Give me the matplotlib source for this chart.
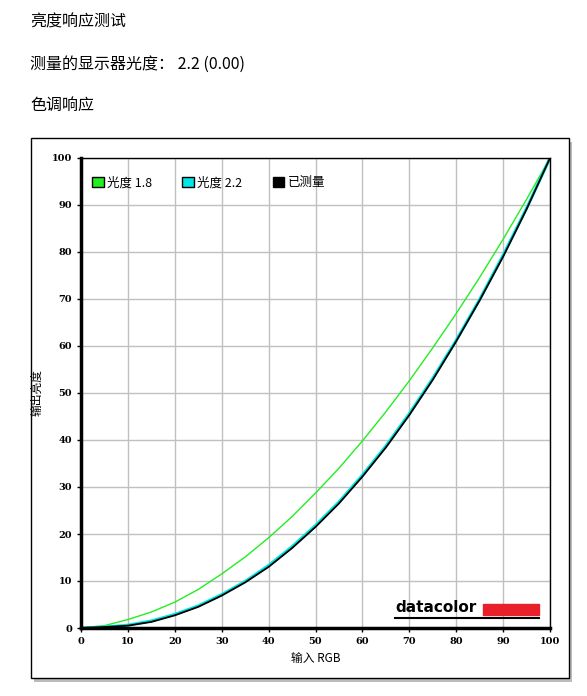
import matplotlib
matplotlib.use("Agg")
import matplotlib.pyplot as plt
from matplotlib.patches import Rectangle, Patch

plt.rcParams['font.family'] = ['Noto Sans CJK SC', 'DejaVu Sans']

x_vals = [0, 5, 10, 15, 20, 25, 30, 35, 40, 45, 50, 55, 60, 65, 70, 75, 80, 85, 90, 95, 100]
gamma18 = [0, 0.5, 1.8, 3.4, 5.5, 8.2, 11.5, 15.1, 19.2, 23.7, 28.7, 34.0, 39.8, 46.0, 52.6, 59.6, 66.9, 74.6, 82.7, 91.2, 100]
gamma22 = [0, 0.2, 0.6, 1.5, 2.9, 4.7, 7.1, 9.9, 13.3, 17.3, 21.8, 26.8, 32.5, 38.7, 45.6, 53.1, 61.2, 69.9, 79.3, 89.3, 100]
measured = [0, 0.2, 0.5, 1.3, 2.7, 4.5, 6.9, 9.7, 13.0, 17.0, 21.5, 26.5, 32.2, 38.4, 45.3, 52.8, 61.0, 69.7, 79.0, 89.1, 100]
ticks = [0, 10, 20, 30, 40, 50, 60, 70, 80, 90, 100]

fig = plt.figure(figsize=(5.87, 6.96), dpi=100)
fig.text(30/587, 1-22/696, "亮度响应测试", fontsize=11.5, va='center')
fig.text(30/587, 1-64/696, "测量的显示器光度： 2.2 (0.00)", fontsize=11.5, va='center')
fig.text(30/587, 1-105/696, "色调响应", fontsize=11.5, va='center')

fig.patches.append(Rectangle((34/587, 1-682/696), 538/587, 540/696, transform=fig.transFigure,
                             facecolor='#bbbbbb', edgecolor='none', zorder=0))
fig.patches.append(Rectangle((31/587, 1-678/696), 538/587, 540/696, transform=fig.transFigure,
                             facecolor='white', edgecolor='black', lw=1, zorder=1))

ax = fig.add_axes([81/587, 1-628/696, 469/587, 470/696])
ax.set_zorder(2)
ax.plot(x_vals, gamma18, color='#22ee22', lw=1)
ax.plot(x_vals, gamma22, color='#00e5e5', lw=2.2)
ax.plot(x_vals, measured, color='black', lw=1.3)
ax.set_xlim(0, 100)
ax.set_ylim(0, 100)
ax.set_xticks(ticks)
ax.set_yticks(ticks)
ax.grid(True, color='#c0c0c0', lw=1)
ax.set_axisbelow(True)
for s in ['top', 'right']:
    ax.spines[s].set_linewidth(1)
for s in ['left', 'bottom']:
    ax.spines[s].set_linewidth(2.5)
ax.tick_params(labelsize=7, length=3, width=1)
for lab in ax.get_xticklabels() + ax.get_yticklabels():
    lab.set_family('DejaVu Serif')
    lab.set_fontweight('bold')
ax.set_xlabel("输入 RGB", fontsize=8.5, labelpad=4)
ax.set_ylabel("输出亮度", fontsize=8.5, labelpad=6)
handles = [Patch(facecolor='#22ee22', edgecolor='black'), Patch(facecolor='#00e5e5', edgecolor='black'),
           Patch(facecolor='black', edgecolor='black')]
ax.legend(handles, ['光度 1.8', '光度 2.2', '已测量'], loc='upper left', ncol=3, frameon=False,
          fontsize=9, handlelength=0.9, handleheight=0.9, columnspacing=2.4, handletextpad=0.3,
          bbox_to_anchor=(0.0, 0.985))

ax.text(0.67, 0.027, "datacolor", transform=ax.transAxes, fontsize=11, fontweight='bold',
        family='DejaVu Sans', va='bottom')
ax.add_patch(Rectangle((0.857, 0.028), 0.12, 0.022, transform=ax.transAxes, color='#e8202a'))
ax.plot([0.67, 0.977], [0.022, 0.022], transform=ax.transAxes, color='black', lw=1.5)

fig.savefig("out.png", dpi=100)
